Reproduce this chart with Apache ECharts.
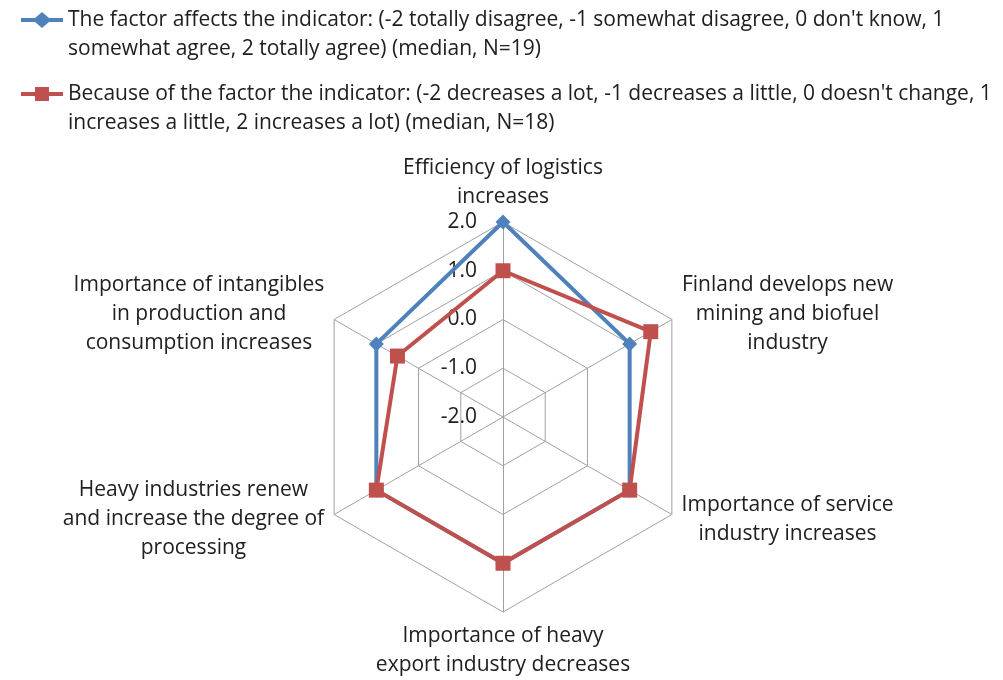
<!DOCTYPE html>
<html>
<head>
<meta charset="utf-8">
<script src="https://cdn.jsdelivr.net/npm/echarts@6/dist/echarts.min.js"></script>
<style>
html,body{margin:0;padding:0;background:#fff;}
#chart{width:1003px;height:680px;}
</style>
</head>
<body>
<div id="chart"></div>
<script>
// Indicators, listed counter-clockwise from the top (ECharts radar order)
const categories = [
  "Efficiency of logistics\nincreases",
  "Importance of intangibles\nin production and\nconsumption increases",
  "Heavy industries renew\nand increase the degree of\nprocessing",
  "Importance of heavy\nexport industry decreases",
  "Importance of service\nindustry increases",
  "Finland develops new\nmining and biofuel\nindustry"
];
const seriesNames = [
  "The factor affects the indicator: (-2 totally disagree, -1 somewhat disagree, 0 don't know, 1\nsomewhat agree, 2 totally agree) (median, N=19)",
  "Because of the factor the indicator: (-2 decreases a lot, -1 decreases a little, 0 doesn't change, 1\nincreases a little, 2 increases a lot) (median, N=18)"
];
const affectsValues = [2, 1, 1, 1, 1, 1];
const changeValues = [1, 0.5, 1, 1, 1, 1.5];
const axisMin = -2;
const axisMax = 2;

const FONT = '"Open Sans", "Noto Sans", sans-serif';
const FS = 21;
const LH = 29;
const TXT = '#202020';
const BLUE = '#4F81BD';
const RED = '#C0504D';

// measure widths for centered multi-line axis names
const cv = document.createElement('canvas').getContext('2d');
cv.font = FS + 'px "Open Sans"';
const rich = {};
categories.forEach((c, i) => {
  const w = Math.max(...c.split('\n').map(s => cv.measureText(s).width));
  rich['n' + i] = {width: Math.ceil(w) + 2, align: 'center', fontFamily: FONT, fontSize: FS, lineHeight: LH, color: TXT};
});

const diamondIcon = 'path://M0,6 L14,6 L21,0 L28,6 L42,6 L42,10 L28,10 L21,16 L14,10 L0,10 Z';
const squareIcon = 'path://M0,6 L14,6 L14,1 L28,1 L28,6 L42,6 L42,10 L28,10 L28,15 L14,15 L14,10 L0,10 Z';

const chart = echarts.init(document.getElementById('chart'));
const legendBase = {
  left: 16,
  itemWidth: 42,
  itemHeight: 16,
  formatter: n => ' \n' + n,
  textStyle: {fontFamily: FONT, fontSize: FS, lineHeight: LH, color: TXT}
};
chart.setOption({
  animation: false,
  legend: [
    Object.assign({}, legendBase, {data: [{name: seriesNames[0], icon: diamondIcon}], top: 15 - LH * 1.5}),
    Object.assign({}, legendBase, {data: [{name: seriesNames[1], icon: squareIcon}], top: 89 - LH * 1.5})
  ],
  radar: {
    center: [503, 417],
    radius: 195,
    shape: 'polygon',
    splitNumber: 4,
    startAngle: 90,
    axisNameGap: 10,
    axisName: {
      formatter: function (name) {
        const i = categories.indexOf(name);
        return '{n' + i + '|' + name + '}';
      },
      rich: rich,
      fontFamily: FONT, fontSize: FS, lineHeight: LH, color: TXT
    },
    splitArea: {show: false},
    splitLine: {lineStyle: {color: '#a0a0a0', width: 1}},
    axisLine: {lineStyle: {color: '#a0a0a0', width: 1}},
    axisTick: {show: false},
    axisLabel: {show: false},
    indicator: categories.map((c, i) => {
      const o = {name: c, min: axisMin, max: axisMax};
      if (i === 0) {
        o.axisLabel = {show: true, margin: 26, fontFamily: FONT, fontSize: FS, color: TXT,
          formatter: v => Number(v).toFixed(1)};
      }
      return o;
    })
  },
  series: [{
    type: 'radar',
    data: [
      {value: affectsValues, name: seriesNames[0],
        symbol: 'diamond', symbolSize: 15,
        itemStyle: {color: BLUE},
        lineStyle: {color: BLUE, width: 4}},
      {value: changeValues, name: seriesNames[1],
        symbol: 'rect', symbolSize: 15,
        itemStyle: {color: RED},
        lineStyle: {color: RED, width: 4}}
    ]
  }]
});
</script>
</body>
</html>
